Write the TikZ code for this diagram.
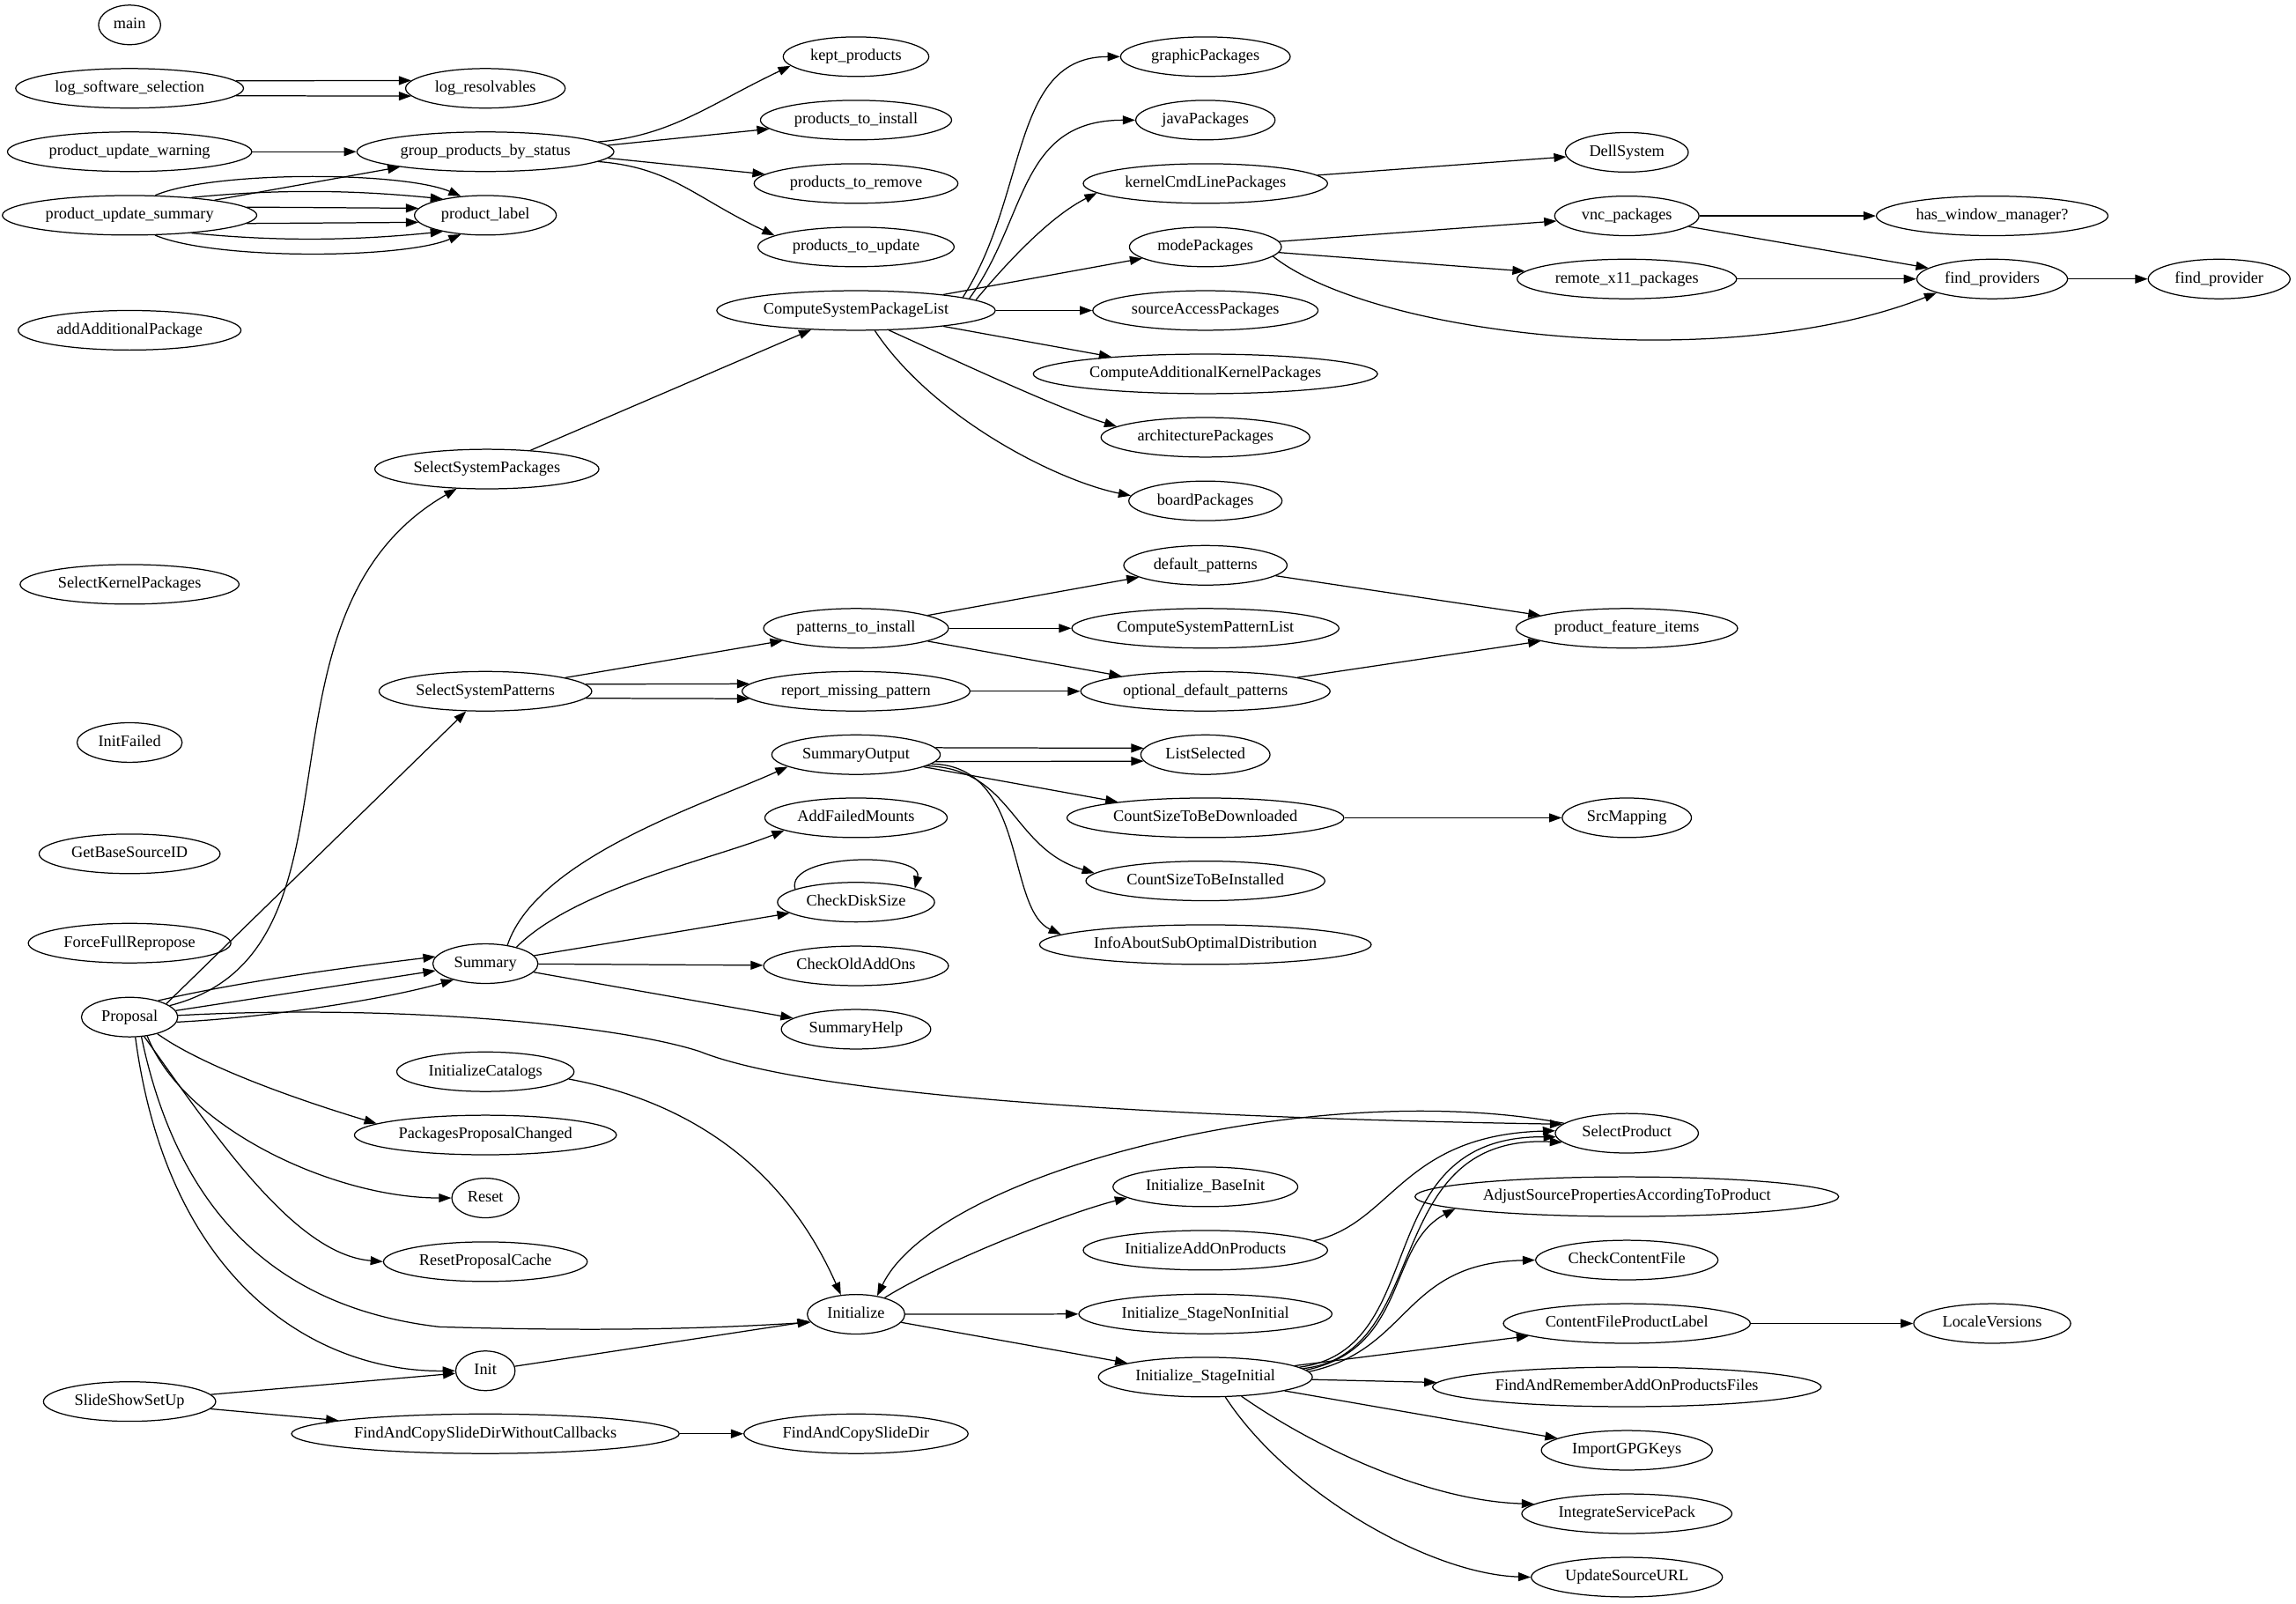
\documentclass[tikz,border=0pt]{standalone}
\usepackage{fontspec}
\setmainfont{Liberation Serif}
\usetikzlibrary{arrows.meta,shapes.geometric}
\tikzset{
  gv/.style={ellipse, draw, line width=0.75pt, font=\fontsize{11}{12}\selectfont,
    inner xsep=4pt, inner ysep=2pt, minimum width=40.5pt, minimum height=27pt,
    text height=7.6pt, text depth=2.3pt},
  edg/.style={-{Triangle[length=8.5pt,width=6pt]}, line width=0.75pt}
}
\begin{document}
\begin{tikzpicture}[x=1pt,y=-1pt]
\useasboundingbox (0,0) rectangle (1568,1095);
% column 1
\node[gv] (main) at (88.5,17) {main};
\node[gv] (lss) at (88.5,60.3) {log\_software\_selection};
\node[gv] (puw) at (88.5,103.6) {product\_update\_warning};
\node[gv] (pus) at (88.5,147) {product\_update\_summary};
\node[gv] (aap) at (88.5,225.5) {addAdditionalPackage};
\node[gv] (skp) at (88.5,399) {SelectKernelPackages};
\node[gv] (ifl) at (88.5,507) {InitFailed};
\node[gv] (gbs) at (88.5,583) {GetBaseSourceID};
\node[gv] (ffr) at (88.5,644) {ForceFullRepropose};
\node[gv] (prop) at (88.5,694.5) {Proposal};
\node[gv] (ssu) at (88.5,957) {SlideShowSetUp};
% column 2
\node[gv] (lr) at (331.5,60.3) {log\_resolvables};
\node[gv] (gpbs) at (331.5,103.6) {group\_products\_by\_status};
\node[gv] (pl) at (331.5,147) {product\_label};
\node[gv] (sspk) at (332.5,320.3) {SelectSystemPackages};
\node[gv] (sspt) at (331.5,472) {SelectSystemPatterns};
\node[gv] (sum) at (331.5,658) {Summary};
\node[gv] (ic) at (331.5,731.8) {InitializeCatalogs};
\node[gv] (ppc) at (331.5,775) {PackagesProposalChanged};
\node[gv] (reset) at (331.5,818) {Reset};
\node[gv] (rpc) at (331.5,861.5) {ResetProposalCache};
\node[gv] (init) at (331.5,936) {Init};
\node[gv] (facw) at (331.5,979) {FindAndCopySlideDirWithoutCallbacks};
% column 3
\node[gv] (kp) at (584.6,38.7) {kept\_products};
\node[gv] (pti) at (584.6,82) {products\_to\_install};
\node[gv] (ptr) at (584.6,125.3) {products\_to\_remove};
\node[gv] (ptu) at (584.6,168.6) {products\_to\_update};
\node[gv] (cspl) at (584.6,212) {ComputeSystemPackageList};
\node[gv] (pati) at (584.6,429) {patterns\_to\_install};
\node[gv] (rmp) at (584.6,472) {report\_missing\_pattern};
\node[gv] (so) at (584.6,515.3) {SummaryOutput};
\node[gv] (afm) at (584.6,558.4) {AddFailedMounts};
\node[gv] (cds) at (584.6,616) {CheckDiskSize};
\node[gv] (coa) at (584.6,659.5) {CheckOldAddOns};
\node[gv] (sh) at (584.6,702.8) {SummaryHelp};
\node[gv] (initz) at (584.6,897.4) {Initialize};
\node[gv] (facsd) at (584.6,979) {FindAndCopySlideDir};
% column 4
\node[gv] (gp) at (823.2,38.7) {graphicPackages};
\node[gv] (jp) at (823.2,82) {javaPackages};
\node[gv] (kclp) at (823.2,125.3) {kernelCmdLinePackages};
\node[gv] (mp) at (823.2,168.6) {modePackages};
\node[gv] (sap) at (823.2,212) {sourceAccessPackages};
\node[gv] (cakp) at (823.2,255.3) {ComputeAdditionalKernelPackages};
\node[gv] (ap) at (823.2,298.6) {architecturePackages};
\node[gv] (bp) at (823.2,342) {boardPackages};
\node[gv] (dp) at (823.2,386) {default\_patterns};
\node[gv] (csptl) at (823.2,429) {ComputeSystemPatternList};
\node[gv] (odp) at (823.2,472) {optional\_default\_patterns};
\node[gv] (ls) at (823.2,515.3) {ListSelected};
\node[gv] (cstbd) at (823.2,558.4) {CountSizeToBeDownloaded};
\node[gv] (cstbi) at (823.2,601.5) {CountSizeToBeInstalled};
\node[gv] (iasod) at (823.2,645) {InfoAboutSubOptimalDistribution};
\node[gv] (ibi) at (823.2,810.4) {Initialize\_BaseInit};
\node[gv] (iaop) at (823.2,853.7) {InitializeAddOnProducts};
\node[gv] (isni) at (823.2,897.2) {Initialize\_StageNonInitial};
\node[gv] (isi) at (823.2,940.3) {Initialize\_StageInitial};
% column 5
\node[gv] (ds) at (1111,104) {DellSystem};
\node[gv] (vnc) at (1111,147.4) {vnc\_packages};
\node[gv] (rx) at (1111,190.5) {remote\_x11\_packages};
\node[gv] (pfi) at (1111,429) {product\_feature\_items};
\node[gv] (srcm) at (1111,558.4) {SrcMapping};
\node[gv] (sp) at (1111,773.8) {SelectProduct};
\node[gv] (asp) at (1111,817.1) {AdjustSourcePropertiesAccordingToProduct};
\node[gv] (ccf) at (1111,860.4) {CheckContentFile};
\node[gv] (cfpl) at (1111,903.7) {ContentFileProductLabel};
\node[gv] (farao) at (1111,947) {FindAndRememberAddOnProductsFiles};
\node[gv] (igk) at (1111,990.3) {ImportGPGKeys};
\node[gv] (isp) at (1111,1033.6) {IntegrateServicePack};
\node[gv] (usu) at (1111,1076.9) {UpdateSourceURL};
% columns 6, 7
\node[gv] (hwm) at (1360.5,147.4) {has\_window\_manager?};
\node[gv] (fps) at (1360.5,190.5) {find\_providers};
\node[gv] (lv) at (1360.5,903.7) {LocaleVersions};
\node[gv] (fp) at (1515.5,190.5) {find\_provider};

% ---- edges ----
\draw[edg] (lss.4) -- (lr.174);
\draw[edg] (lss.-4) -- (lr.186);
\draw[edg] (puw) -- (gpbs);
\draw[edg] (pus) -- (gpbs);
\draw[edg] (pus.38) .. controls +(40,-17) and +(-40,-17) .. (pl.142);
\draw[edg] (pus.16) .. controls +(60,-6) and +(-60,-6) .. (pl.159);
\draw[edg] (pus.4) -- (pl.174);
\draw[edg] (pus.-4) -- (pl.186);
\draw[edg] (pus.-16) .. controls +(60,6) and +(-60,6) .. (pl.201);
\draw[edg] (pus.-38) .. controls +(40,17) and +(-40,17) .. (pl.218);

\draw[edg] (gpbs.5) .. controls +(50,-4) and +(-55,26) .. (kp.188);
\draw[edg] (gpbs.3) -- (pti);
\draw[edg] (gpbs.-3) -- (ptr);
\draw[edg] (gpbs.-5) .. controls +(50,4) and +(-55,-26) .. (ptu.172);

\draw[edg] (sspk) -- (cspl);
\draw[edg] (cspl.7) .. controls +(45,-70) and +(-75,0) .. (gp.west);
\draw[edg] (cspl.6) .. controls +(40,-55) and +(-80,0) .. (jp.west);
\draw[edg] (cspl.5) .. controls +(25,-30) and +(-30,15) .. (kclp.185);
\draw[edg] (cspl) -- (mp);
\draw[edg] (cspl) -- (sap);
\draw[edg] (cspl) -- (cakp);
\draw[edg] (cspl.-31) .. controls +(40,18) and +(-40,-12) .. (ap.173);
\draw[edg] (cspl.-47) .. controls +(40,60) and +(-50,-10) .. (bp.176);

\draw[edg] (kclp) -- (ds);
\draw[edg] (mp) -- (vnc);
\draw[edg] (mp) -- (rx);
\draw[edg] (mp.-8) .. controls +(70,55) and +(-143,56.5) .. (fps.194);
\draw[edg] (vnc) -- (hwm);
\draw[edg] (vnc) -- (fps);
\draw[edg] (rx) -- (fps);
\draw[edg] (fps) -- (fp);

\draw[edg] (sspt) -- (pati);
\draw[edg] (sspt.4) -- (rmp.176);
\draw[edg] (sspt.-4) -- (rmp.184);
\draw[edg] (pati) -- (dp);
\draw[edg] (pati) -- (csptl);
\draw[edg] (pati) -- (odp);
\draw[edg] (rmp) -- (odp);
\draw[edg] (dp) -- (pfi);
\draw[edg] (odp) -- (pfi);

\draw[edg] (prop.16) .. controls +(145,-37) and +(-151,87) .. (sspk.213);
\draw[edg] (prop.20) -- (sspt.226);
\draw[edg] (prop.30) .. controls +(60,-14) and +(-50,6) .. (sum.172);
\draw[edg] (prop.8) -- (sum.188);
\draw[edg] (prop.-6) .. controls +(60,-3) and +(-50,14) .. (sum.207);
\draw[edg] (prop.2) .. controls +(150,-8) and +(-55,-18) .. (478,718)
   .. controls +(80,32) and +(-250,-4) .. (sp.172);
\draw[edg] (prop.-31) .. controls +(35,25) and +(-40,-12) .. (ppc.174);
\draw[edg] (prop.-47) .. controls +(25,63) and +(-80,0) .. (reset.west);
\draw[edg] (prop.-53) .. controls +(50,70) and +(-60,-5) .. (rpc.west);
\draw[edg] (prop.-59) .. controls +(23,110) and +(-120,-14) .. (300,906)
   .. controls +(100,3) and +(-80,5) .. (initz.190);
\draw[edg] (prop.-74) .. controls +(23,172) and +(-91,1) .. (init.west);

\draw[edg] (sp.171) .. controls +(-170,-32) and +(41,-85) .. (initz.41);
\draw[edg] (ic.-5) .. controls +(80,15) and +(-40,-90) .. (initz.128);
\draw[edg] (init) -- (initz);
\draw[edg] (ssu) -- (init);
\draw[edg] (ssu) -- (facw);
\draw[edg] (facw) -- (facsd);

\draw[edg] (sum.40) .. controls +(20,-60) and +(-55,25) .. (so.190);
\draw[edg] (sum.28) .. controls +(40,-40) and +(-50,20) .. (afm.190);
\draw[edg] (sum) -- (cds);
\draw[edg] (sum) -- (coa);
\draw[edg] (sum) -- (sh);
\draw[edg] (cds.168) .. controls +(-7,-25) and +(6,-25) .. (cds.13);

\draw[edg] (so.5) -- (ls.174);
\draw[edg] (so.-5) -- (ls.186);
\draw[edg] (so) -- (cstbd);
\draw[edg] (so.-9) .. controls +(59,2) and +(-57,-17) .. (cstbi.176);
\draw[edg] (so.-7) .. controls +(66,1) and +(-38,-18) .. (iasod.176);
\draw[edg] (cstbd) -- (srcm);

\draw[edg] (initz.30) .. controls +(40,-25) and +(-40,10) .. (ibi.188);
\draw[edg] (initz) -- (isni);
\draw[edg] (initz) -- (isi);

\draw[edg] (iaop.5) .. controls +(54,-12) and +(-105,3) .. (sp.178);
\draw[edg] (isi.6) .. controls +(92,-12) and +(-130,-1) .. (sp.183);
\draw[edg] (isi.5) .. controls +(90,-10) and +(-126,-6) .. (sp.188);
\draw[edg] (isi.4) .. controls +(70,-15) and +(-47,25) .. (asp.184);
\draw[edg] (isi.3) .. controls +(70,-15) and +(-91,2) .. (ccf.west);
\draw[edg] (isi) -- (cfpl);
\draw[edg] (isi) -- (farao);
\draw[edg] (isi) -- (igk);
\draw[edg] (isi.-28) .. controls +(53,37) and +(-70,-2) .. (isp.174);
\draw[edg] (isi.-45) .. controls +(43,66) and +(-68,-2) .. (usu.west);
\draw[edg] (cfpl) -- (lv);
\end{tikzpicture}
\end{document}
